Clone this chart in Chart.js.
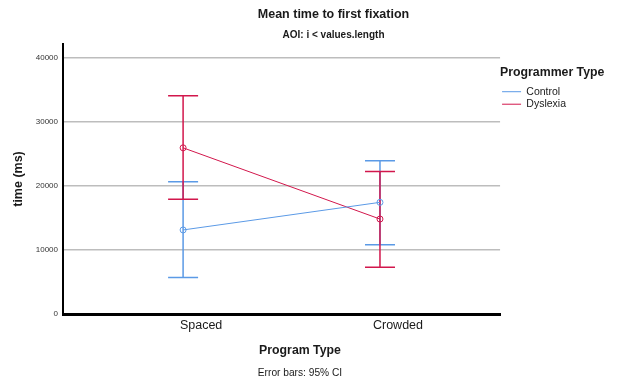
<!DOCTYPE html>
<html>
<head>
<meta charset="utf-8">
<script src="https://cdn.jsdelivr.net/npm/chart.js@4.4.1/dist/chart.umd.min.js"></script>
<style>
  html, body { margin: 0; padding: 0; background: #fff; }
  #wrap { width: 617px; height: 388px; position: relative; }
</style>
</head>
<body>
<div id="wrap"><canvas id="myChart"></canvas></div>
<script>
// Data
const categories = ['Spaced', 'Crowded']
const yTicks = [0, 10000, 20000, 30000, 40000]

const controlMean = [13100, 17400]
const controlLow = [5700, 10800]
const controlHigh = [20600, 23900]

const dyslexiaMean = [25900, 14800]
const dyslexiaLow = [17900, 7300]
const dyslexiaHigh = [34000, 22200]

const FONT = "'Liberation Sans', Arial, sans-serif"
const TEXT = '#1a1a1a'
const BLUE = '#5b9ae6'
const RED = '#d2174c'

const toPoints = arr => arr.map((v, i) => ({ x: i + 1, y: v }))

window.onload = function () {

    // Draw 95% CI bars through the chart scales
    const errorBars = {
        id: 'errorBars',
        beforeDatasetsDraw(chart) {
            const { ctx, scales: { x, y } } = chart
            chart.data.datasets.forEach(ds => {
                ctx.save()
                ctx.strokeStyle = ds.borderColor
                ctx.lineWidth = 1.5
                ds.low.forEach((lo, i) => {
                    const px = x.getPixelForValue(i + 1)
                    const pLo = y.getPixelForValue(lo)
                    const pHi = y.getPixelForValue(ds.high[i])
                    ctx.beginPath()
                    ctx.moveTo(px, pLo); ctx.lineTo(px, pHi)
                    ctx.moveTo(px - 15, pLo); ctx.lineTo(px + 15, pLo)
                    ctx.moveTo(px - 15, pHi); ctx.lineTo(px + 15, pHi)
                    ctx.stroke()
                })
                ctx.restore()
            })
        }
    }

    // Legend title is wider than the legend items, so widen its clip box
    const legendRoom = {
        id: 'legendRoom',
        beforeDraw(chart) {
            if (chart.legend) chart.legend.right = chart.width
        }
    }

    // Titles and footnote
    const texts = {
        id: 'texts',
        afterDraw(chart) {
            const ctx = chart.ctx
            ctx.save()
            ctx.fillStyle = TEXT
            ctx.textAlign = 'center'
            ctx.textBaseline = 'middle'
            ctx.font = 'bold 12.5px ' + FONT
            ctx.fillText('Mean time to first fixation', 333.5, 14.5)
            ctx.font = 'bold 10px ' + FONT
            ctx.fillText('AOI: i < values.length', 333.5, 35)
            ctx.font = 'bold 12.3px ' + FONT
            ctx.fillText('Program Type', 300, 351)
            ctx.font = '10.2px ' + FONT
            ctx.fillText('Error bars: 95% CI', 300, 373.5)
            ctx.restore()
        }
    }

    const data = {
        datasets: [{
            label: 'Control',
            data: toPoints(controlMean),
            low: controlLow,
            high: controlHigh,
            borderColor: BLUE,
            backgroundColor: 'rgba(0,0,0,0)',
            borderWidth: 1,
            pointRadius: 3,
            pointBorderWidth: 1,
            pointBackgroundColor: 'rgba(0,0,0,0)'
        }, {
            label: 'Dyslexia',
            data: toPoints(dyslexiaMean),
            low: dyslexiaLow,
            high: dyslexiaHigh,
            borderColor: RED,
            backgroundColor: 'rgba(0,0,0,0)',
            borderWidth: 1,
            pointRadius: 3,
            pointBorderWidth: 1,
            pointBackgroundColor: 'rgba(0,0,0,0)'
        }]
    }

    const config = {
        type: 'line',
        data: data,
        plugins: [errorBars, legendRoom, texts],
        options: {
            responsive: true,
            maintainAspectRatio: false,
            animation: false,
            layout: {
                padding: { top: 44, bottom: 51, left: 0, right: 41 }
            },
            plugins: {
                tooltip: { enabled: false },
                legend: {
                    position: 'right',
                    align: 'start',
                    title: {
                        display: true,
                        text: 'Programmer Type',
                        color: TEXT,
                        position: 'start',
                        font: { family: FONT, size: 12.3, weight: 'bold' },
                        padding: { top: 22.5, bottom: 3.2 }
                    },
                    labels: {
                        color: TEXT,
                        font: { family: FONT, size: 10.5 },
                        usePointStyle: true,
                        pointStyle: 'line',
                        pointStyleWidth: 19,
                        padding: 2
                    }
                }
            },
            scales: {
                x: {
                    type: 'linear',
                    min: 0.39,
                    max: 2.61,
                    afterBuildTicks: scale => { scale.ticks = categories.map((c, i) => ({ value: i + 1 })) },
                    ticks: {
                        color: TEXT,
                        font: { family: FONT, size: 12.5 },
                        padding: 4,
                        labelOffset: 18,
                        maxRotation: 0,
                        callback: v => categories[v - 1]
                    },
                    grid: { display: false, drawTicks: false },
                    border: { color: '#000', width: 3 }
                },
                y: {
                    min: 0,
                    max: 42080,
                    afterBuildTicks: scale => { scale.ticks = yTicks.map(v => ({ value: v })) },
                    afterFit: scale => { scale.width = 63 },
                    title: {
                        display: true,
                        text: 'time (ms)',
                        color: TEXT,
                        font: { family: FONT, size: 12.5, weight: 'bold' },
                        padding: { top: 11.5, bottom: 0 }
                    },
                    ticks: {
                        color: '#333',
                        font: { family: FONT, size: 8 },
                        padding: 5,
                        callback: v => String(v)
                    },
                    grid: {
                        color: '#bdbdbd',
                        lineWidth: 1.5,
                        drawTicks: false
                    },
                    border: { color: '#000', width: 2 }
                }
            }
        }
    }

    const ctx = document.getElementById('myChart').getContext('2d')
    new Chart(ctx, config)
}
</script>
</body>
</html>
